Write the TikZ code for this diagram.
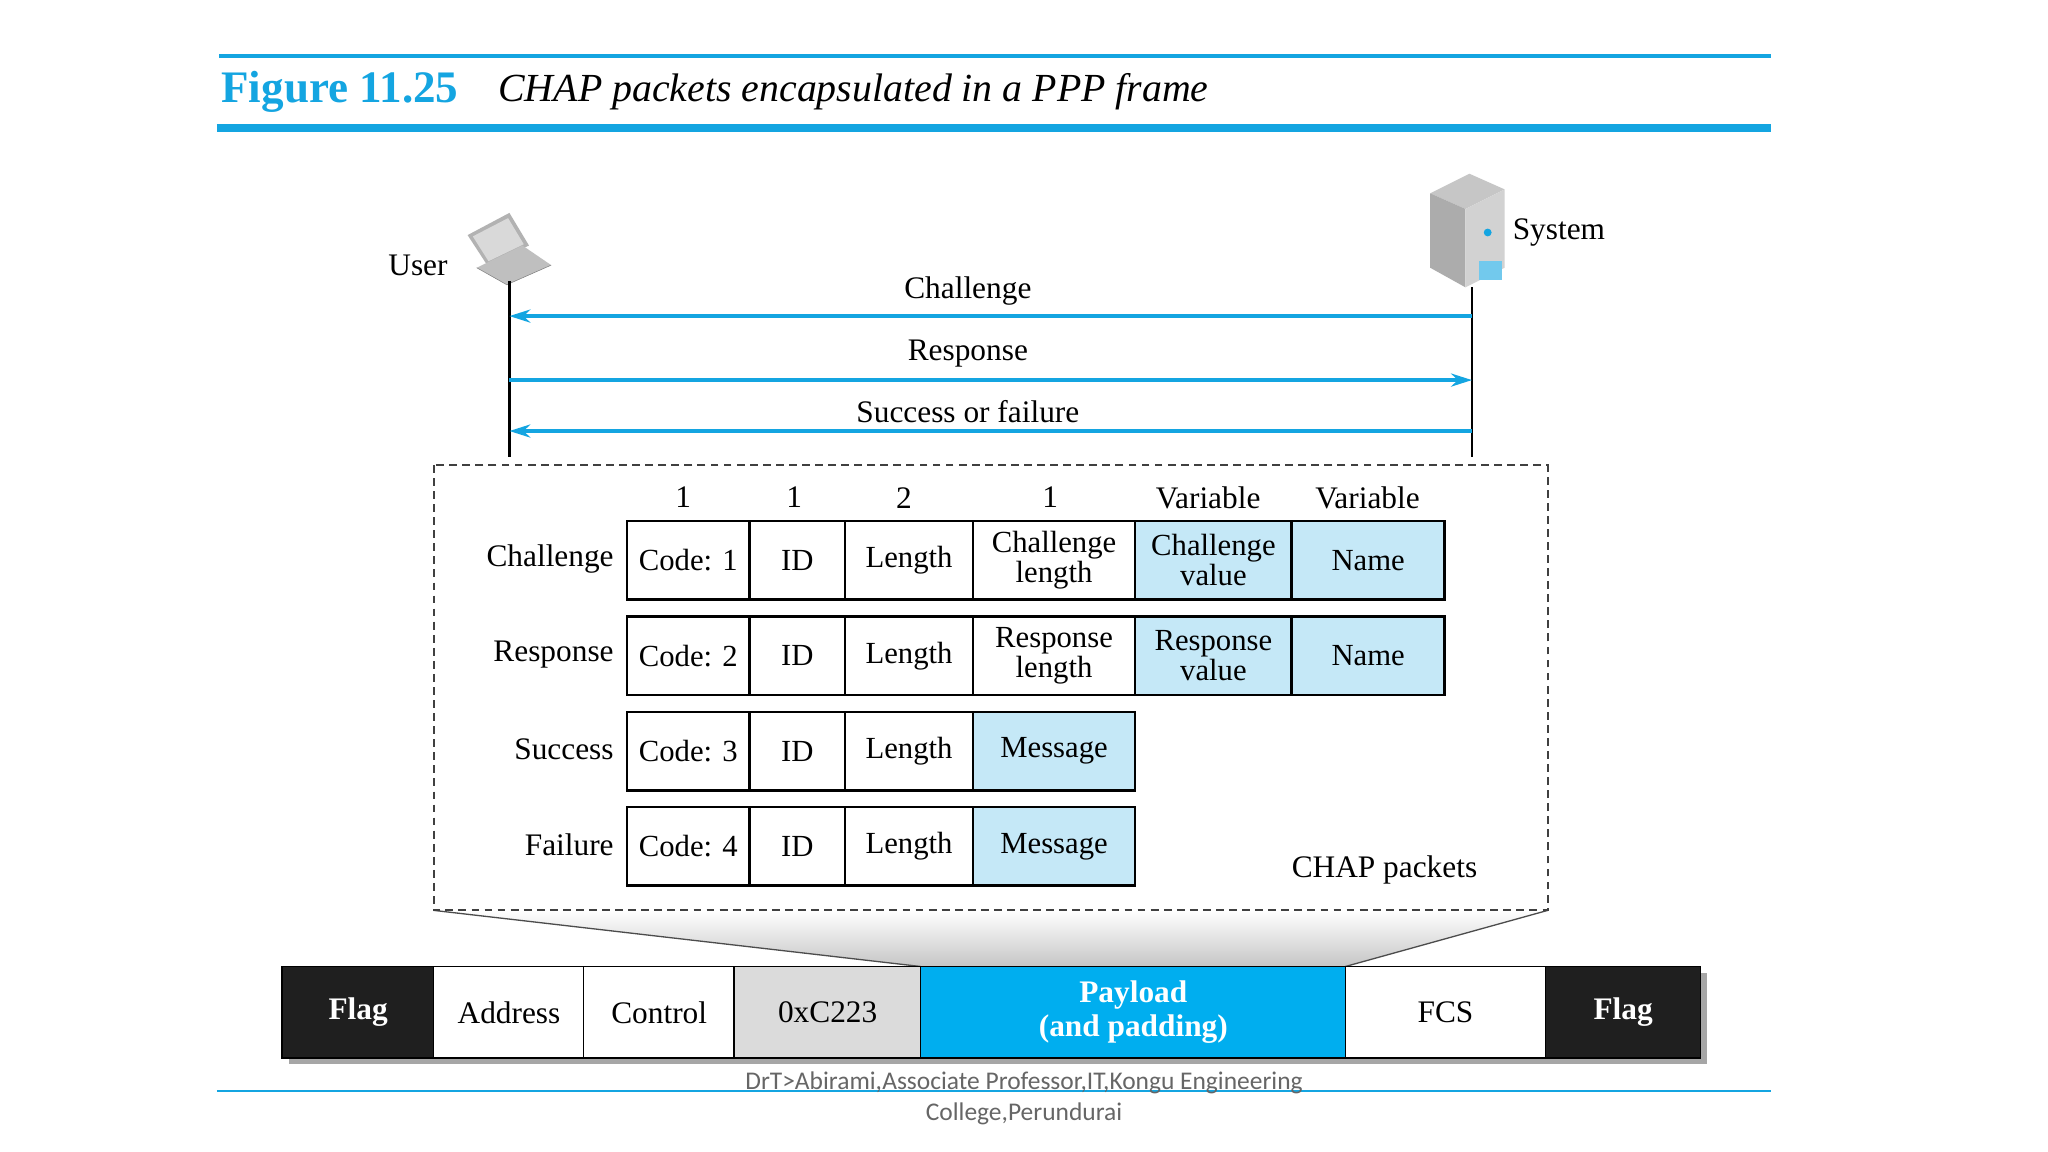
\documentclass[tikz,border=0pt]{standalone}
\usepackage{fontspec}
\setmainfont{Liberation Serif}
\newfontfamily\foot{Carlito}
\usetikzlibrary{arrows.meta}
\definecolor{cblue}{RGB}{20,165,225}
\definecolor{lblue}{RGB}{197,232,247}
\definecolor{pblue}{RGB}{0,174,239}
\begin{document}
\begin{tikzpicture}[x=1pt,y=-1pt,
  cell/.style={draw=black,line width=2pt,minimum height=60pt,inner sep=0pt,align=center,font=\fontsize{23.5}{23}\selectfont,anchor=north west},
  lbl/.style={font=\fontsize{24}{24}\selectfont,inner sep=0pt},
  msg/.style={cblue,line width=3pt,-{Stealth[length=16pt,width=10pt]}},
  fr/.style={minimum height=70pt,inner sep=0pt,anchor=north west,align=center,font=\fontsize{24}{24}\selectfont}]
\useasboundingbox (0,0) rectangle (1568,882);
\fill[white] (0,0) rectangle (1568,882);
% title
\draw[cblue,line width=3pt] (168,43) -- (1356,43);
\draw[cblue,line width=6pt] (166,98) -- (1356,98);
\node[anchor=west,text=cblue,font=\fontsize{34.5}{34}\selectfont\bfseries] (fig) at (166,70) {Figure 11.25};
\node[anchor=west,font=\fontsize{30.5}{30}\selectfont\itshape] (ttl) at (378,70) {CHAP packets encapsulated in a PPP frame};
% user / system
\node[lbl] (user) at (320,203) {User};
\node[lbl,anchor=west] (sys) at (1158,178) {System};
% laptop
\fill[gray!60] (358,180) -- (390,163) -- (405,188) -- (373,203) -- cycle;
\fill[gray!30] (362,181) -- (389,167) -- (401,187) -- (374,200) -- cycle;
\fill[gray!50] (365,205) -- (400,188) -- (422,203) -- (388,218) -- cycle;
\draw[gray] (365,205) -- (388,218) -- (422,203);
% server
\fill[gray!45] (1095,148) -- (1125,133) -- (1152,145) -- (1122,160) -- cycle;
\fill[gray!65] (1095,148) -- (1122,160) -- (1122,220) -- (1095,205) -- cycle;
\fill[gray!35] (1122,160) -- (1152,145) -- (1152,205) -- (1122,220) -- cycle;
\fill[cblue!60] (1132,200) rectangle (1150,214);
\fill[cblue] (1139,178) circle (3);
\coordinate (u0) at (390,215); \coordinate (u1) at (390,350);
\coordinate (s0) at (1127,220); \coordinate (s1) at (1127,350);
\draw[line width=2pt] (u0) -- (u1);
\draw[line width=2pt] (s0) -- (s1);
\coordinate (a1s) at (1127,242); \coordinate (a1e) at (390,242);
\coordinate (a2s) at (390,291); \coordinate (a2e) at (1127,291);
\coordinate (a3s) at (1127,330); \coordinate (a3e) at (390,330);
\draw[msg] (a1s) -- (a1e);
\draw[msg] (a2s) -- (a2e);
\draw[msg] (a3s) -- (a3e);
\node[lbl] (l1) at (741,223) {Challenge};
\node[lbl] (l2) at (741,271) {Response};
\node[lbl] (l3) at (741,315) {Success or failure};
% funnel
\shade[top color=white,bottom color=gray!45] (332,697) -- (1185,697) -- (1030,740) -- (705,740) -- cycle;
\draw[line width=1pt,gray!60!black] (332,697) -- (705,740) (1185,697) -- (1030,740);
% dashed box
\draw[dash pattern=on 6pt off 4pt,line width=1.5pt,gray!50!black] (332,356) rectangle (1185,697);
\node[lbl] (chp) at (1060,666) {CHAP packets};
% headers
\foreach \t/\x in {1/523,1/608,2/692,1/804,Variable/925,Variable/1047}
  \node[lbl] at (\x,381) {\t};
% rows
\foreach \r/\y in {Challenge/398,Response/471,Success/544,Failure/617}
  \node[lbl,anchor=east] at (470,\y+30) {\r};
\foreach \y/\n [count=\i] in {398/1,471/2,544/3,617/4}{
  \node[cell,minimum width=94pt] (c\i) at (479,\y) {Code: \n};
  \node[cell,minimum width=73pt] (i\i) at (573,\y) {ID};
  \node[cell,minimum width=98pt] (l\i) at (646,\y) {Length};
}
\node[cell,minimum width=124pt] (cl) at (744,398) {Challenge\\length};
\node[cell,minimum width=120pt,fill=lblue] (cv) at (868,398) {Challenge\\value};
\node[cell,minimum width=117pt,fill=lblue] (cn) at (988,398) {Name};
\node[cell,minimum width=124pt] (rl) at (744,471) {Response\\length};
\node[cell,minimum width=120pt,fill=lblue] (rv) at (868,471) {Response\\value};
\node[cell,minimum width=117pt,fill=lblue] (rn) at (988,471) {Name};
\node[cell,minimum width=124pt,fill=lblue] (sm) at (744,544) {Message};
\node[cell,minimum width=124pt,fill=lblue] (fm) at (744,617) {Message};
% frame
\fill[gray!70] (221,745) rectangle (1307,815);
\node[fr,fill=black!88,text=white,font=\fontsize{24}{24}\selectfont\bfseries,minimum width=116pt] (f1) at (216,740) {Flag};
\node[fr,fill=white,minimum width=115pt] (f2) at (332,740) {Address};
\node[fr,fill=white,minimum width=115pt] (f3) at (447,740) {Control};
\node[fr,fill=gray!28,minimum width=143pt] (f4) at (562,740) {0xC223};
\node[fr,fill=pblue,text=white,font=\fontsize{24}{26}\selectfont\bfseries,minimum width=325pt] (f5) at (705,740) {Payload\\(and padding)};
\node[fr,fill=white,minimum width=153pt] (f6) at (1030,740) {FCS};
\node[fr,fill=black!88,text=white,font=\fontsize{24}{24}\selectfont\bfseries,minimum width=119pt] (f7) at (1183,740) {Flag};
\draw[line width=1pt] (216,740) rectangle (1302,810);
\foreach \x in {332,447,562,705,1030,1183} \draw[line width=1pt] (\x,740) -- (\x,810);
% footer
\draw[cblue,line width=1.5pt] (166,835) -- (1356,835);
\node[text=gray!80!black,font=\foot\fontsize{19.5}{24}\selectfont,align=center] (ft) at (784,841) {DrT>Abirami,Associate Professor,IT,Kongu Engineering\\College,Perundurai};
\end{tikzpicture}
\end{document}
